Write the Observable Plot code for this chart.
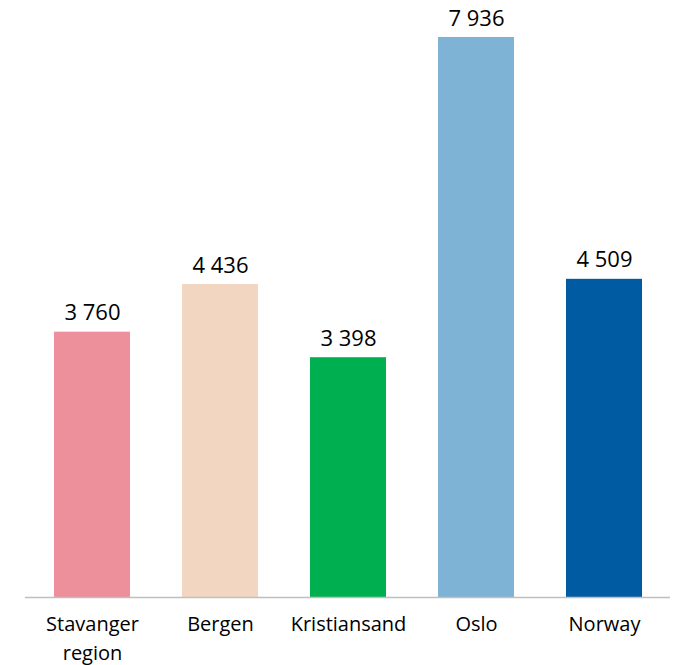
<!DOCTYPE html>
<html>
<head>
<meta charset="utf-8">
<script src="https://cdn.jsdelivr.net/npm/d3@7"></script>
<script src="https://cdn.jsdelivr.net/npm/@observablehq/plot@0.6"></script>
<style>
  body { margin: 0; background: #fff; }
</style>
</head>
<body>
<div id="chart"></div>
<script>
const categories = ["Stavanger\nregion", "Bergen", "Kristiansand", "Oslo", "Norway"];
const values = [3760, 4436, 3398, 7936, 4509];
const colors = ["#ee8f9c", "#f2d6c1", "#00b050", "#7fb3d5", "#005ba3"];

const data = categories.map((c, i) => ({category: c, value: values[i], color: colors[i]}));
const fmt = d3.formatLocale({thousands: "\u00a0", grouping: [3], decimal: ","}).format(",");

const chart = Plot.plot({
  width: 684,
  height: 665,
  marginLeft: 25,
  marginRight: 14,
  marginTop: 0,
  marginBottom: 68,
  style: {fontFamily: "'Open Sans', sans-serif", fontSize: "20px", color: "#000"},
  x: {domain: categories, paddingInner: 0.41, paddingOuter: 0.21, label: null},
  y: {domain: [0, 8460], axis: null},
  marks: [
    Plot.barY(data, {x: "category", y: "value", fill: "color"}),
    Plot.ruleY([0], {stroke: "#bfbfbf", strokeWidth: 1.5}),
    Plot.text(data, {x: "category", y: "value", text: d => fmt(d.value), dy: -19, fontSize: 22, fill: "#000"}),
    Plot.axisX({tickSize: 0, tickPadding: 13, fontSize: 20, lineHeight: 1.45, fill: "#000", label: null})
  ]
});
document.getElementById("chart").appendChild(chart);
</script>
</body>
</html>
